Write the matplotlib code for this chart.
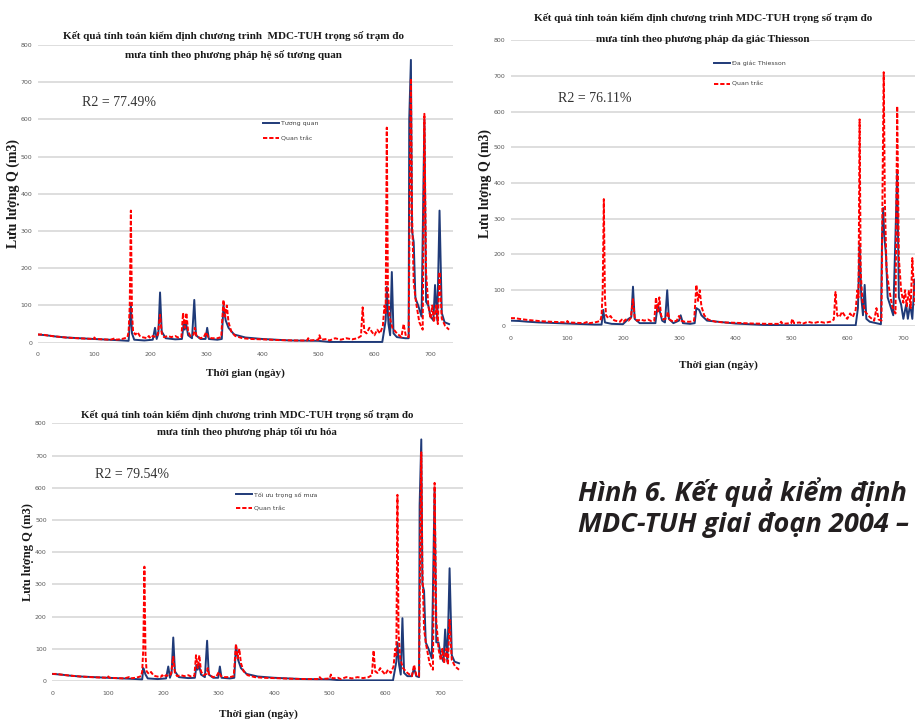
import matplotlib.pyplot as plt

W, H = 915, 720

# observed discharge (shared by all three panels)
obs_day = [0, 8, 15, 30, 50, 70, 100, 101, 103, 130, 138, 140, 150, 155, 160, 162, 164, 166, 168, 170,
           174, 178, 182, 186, 195, 198, 201, 205, 210, 214, 218, 221, 225, 232, 238, 245, 250, 256, 259, 262,
           265, 268, 272, 278, 280, 283, 290, 296, 300, 304, 310, 320, 327, 331, 334, 337, 340, 345, 352, 365,
           380, 400, 430, 460, 480, 482, 485, 500, 502, 505, 515, 520, 530, 540, 550, 560, 570, 576, 579, 582,
           586, 591, 595, 600, 605, 610, 615, 618, 620, 622, 624, 627, 632, 640, 648, 652, 656, 661, 663, 665,
           667, 670, 674, 680, 686, 689, 692, 696, 700, 703, 706, 710, 713, 716, 720, 726, 733]
obs_q = [22, 22, 20, 17, 14, 12, 10, 14, 10, 8, 12, 8, 10, 12, 15, 30, 100, 355, 80, 30,
         22, 28, 18, 15, 12, 18, 12, 18, 15, 22, 75, 25, 15, 18, 15, 18, 14, 15, 80, 40,
         80, 30, 18, 22, 40, 18, 12, 15, 28, 15, 12, 12, 15, 115, 70, 100, 55, 30, 18, 12,
         10, 9, 7, 6, 6, 12, 6, 8, 20, 8, 10, 6, 12, 8, 12, 9, 12, 18, 95, 30,
         25, 40, 30, 20, 35, 25, 45, 100, 80, 578, 150, 70, 40, 25, 15, 50, 18, 15, 410, 710,
         350, 160, 110, 55, 35, 615, 190, 100, 65, 100, 55, 100, 50, 190, 65, 45, 35]

# correlation-coefficient weights
sim1_day = [0, 15, 30, 50, 100, 140, 162, 164, 166, 168, 172, 190, 205, 209, 212, 215, 218, 221, 228, 245,
            257, 260, 262, 264, 268, 275, 279, 282, 290, 299, 302, 305, 320, 328, 331, 335, 340, 350, 370, 400,
            450, 500, 520, 560, 600, 614, 618, 620, 622, 625, 628, 631, 634, 640, 655, 661, 662, 665, 667, 670,
            673, 678, 684, 689, 692, 696, 700, 705, 708, 712, 716, 720, 725, 733]
sim1_q = [22, 20, 17, 14, 10, 7, 5, 50, 105, 25, 8, 6, 8, 40, 10, 25, 135, 30, 12, 9,
          10, 50, 35, 55, 20, 12, 115, 20, 10, 10, 40, 10, 8, 10, 100, 60, 40, 22, 14, 10,
          6, 5, 2, 2, 2, 2, 40, 60, 150, 50, 20, 190, 25, 15, 12, 12, 600, 760, 300, 270,
          120, 100, 70, 600, 110, 100, 70, 60, 155, 60, 355, 80, 55, 50]

# Thiessen polygon weights
sim2_day = [0, 15, 30, 50, 100, 150, 162, 165, 168, 180, 200, 210, 215, 218, 221, 230, 250, 258, 262, 266,
            270, 275, 279, 282, 290, 300, 303, 307, 320, 328, 331, 336, 340, 350, 400, 450, 500, 615, 619, 622,
            625, 628, 631, 634, 640, 660, 662, 664, 666, 669, 672, 676, 682, 689, 692, 696, 700, 705, 708, 712,
            716, 720]
sim2_q = [15, 14, 12, 10, 7, 4, 4, 45, 10, 6, 5, 20, 25, 110, 20, 8, 8, 8, 60, 40,
          15, 10, 100, 20, 8, 15, 30, 8, 6, 8, 50, 45, 30, 15, 7, 3, 2, 2, 50, 230,
          80, 30, 115, 20, 12, 5, 250, 330, 250, 200, 80, 60, 30, 430, 80, 60, 20, 60, 20, 60,
          20, 130]

# optimised weights
sim3_day = [0, 15, 30, 50, 100, 140, 162, 164, 166, 168, 172, 190, 205, 209, 212, 215, 218, 221, 228, 245,
            257, 260, 262, 264, 268, 275, 279, 282, 290, 299, 302, 305, 320, 328, 331, 335, 340, 350, 370, 400,
            450, 500, 520, 560, 600, 614, 618, 620, 622, 625, 628, 631, 634, 640, 648, 652, 656, 661, 662, 665,
            667, 670, 673, 678, 684, 689, 692, 696, 700, 705, 708, 712, 716, 720, 725, 733]
sim3_q = [22, 20, 17, 14, 10, 7, 5, 40, 30, 20, 8, 6, 8, 45, 10, 25, 135, 30, 12, 9,
          10, 50, 35, 55, 20, 12, 125, 20, 10, 10, 45, 10, 8, 10, 110, 65, 40, 22, 14, 10,
          6, 5, 2, 2, 2, 2, 40, 60, 120, 50, 20, 195, 25, 15, 15, 40, 15, 12, 545, 750,
          300, 280, 120, 100, 70, 600, 120, 120, 80, 60, 160, 60, 350, 80, 60, 55]

panels = [
    dict(rect=(37.7, 342.7, 453.0, 45.0), sim=(sim1_day, sim1_q), sim_label="Tương quan",
         title=("Kết quả tính toán kiểm định chương trình  MDC-TUH trọng số trạm đo",
                "mưa tính theo phương pháp hệ số tương quan"),
         title_xy=(233, 36, 55), r2="R2 = 77.49%", r2_xy=(82, 103), leg_xy=(263, 121), leg_sp=1.5,
         ylab_xy=(13, 193), xlab_xy=(245, 373), fs=8.0, yfs=10),
    dict(rect=(510.7, 326.0, 925.8, 40.0), sim=(sim2_day, sim2_q), sim_label="Đa giác Thiesson",
         title=("Kết quả tính toán kiểm định chương trình MDC-TUH trọng số trạm đo",
                "mưa tính theo phương pháp đa giác Thiesson"),
         title_xy=(703, 18, 39), r2="R2 = 76.11%", r2_xy=(558, 98), leg_xy=(714, 61), leg_sp=2.4,
         ylab_xy=(485, 183), xlab_xy=(718, 365), fs=8.0, yfs=10),
    dict(rect=(52.3, 681.0, 462.9, 423.3), sim=(sim3_day, sim3_q), sim_label="Tối ưu trọng số mưa",
         title=("Kết quả tính toán kiểm định chương trình MDC-TUH trọng số trạm đo",
                "mưa tính theo phương pháp tối ưu hóa"),
         title_xy=(247, 415, 432), r2="R2 = 79.54%", r2_xy=(95, 474), leg_xy=(236, 492), leg_sp=1.4,
         ylab_xy=(28, 552), xlab_xy=(258, 714), fs=7.8, yfs=9),
]

fig = plt.figure(figsize=(W / 100, H / 100), dpi=100)
serif = "Liberation Serif"


def fx(x):
    return x / W


def fy(y):
    return 1 - y / H


for p in panels:
    x0, y0, x1, y1 = p["rect"]
    ax = fig.add_axes([fx(x0), fy(y0), (x1 - x0) / W, (y0 - y1) / H])
    ax.set_frame_on(False)
    ax.set_xlim(0, 740)
    ax.set_ylim(0, 800)
    ax.set_xticks(range(0, 800, 100))
    ax.set_yticks(range(0, 900, 100))
    ax.grid(axis="y", color="#d4d4d4", lw=1.1)
    ax.set_axisbelow(True)
    ax.tick_params(length=0, labelsize=4.5, labelcolor="#595959")
    ax.tick_params(axis="x", pad=7)
    ax.tick_params(axis="y", pad=4)

    ax.plot(p["sim"][0], p["sim"][1], color="#1f3a78", lw=1.4, label=p["sim_label"])
    ax.plot(obs_day, obs_q, color="#ff0000", lw=1.4, dashes=(2.2, 1.0), label="Quan trắc")

    ax.legend(loc="upper left", bbox_to_anchor=(fx(p["leg_xy"][0]), fy(p["leg_xy"][1])),
              bbox_transform=fig.transFigure, frameon=False, fontsize=4.5, borderpad=0,
              borderaxespad=0, handlelength=2.6, handletextpad=0.3, labelspacing=p["leg_sp"],
              labelcolor="#404040")

    tx, ty1, ty2 = p["title_xy"]
    for line, ty in zip(p["title"], (ty1, ty2)):
        fig.text(fx(tx), fy(ty), line, ha="center", va="center", family=serif,
                 weight="bold", fontsize=p["fs"], color="#1a1a1a")
    fig.text(fx(p["r2_xy"][0]), fy(p["r2_xy"][1]), p["r2"], ha="left", va="center",
             family=serif, fontsize=10, color="#333333")
    fig.text(fx(p["ylab_xy"][0]), fy(p["ylab_xy"][1]), "Lưu lượng Q (m3)", rotation=90,
             ha="center", va="center", family=serif, weight="bold", fontsize=p["yfs"], color="#1a1a1a")
    fig.text(fx(p["xlab_xy"][0]), fy(p["xlab_xy"][1]), "Thời gian (ngày)", ha="center",
             va="center", family=serif, weight="bold", fontsize=8, color="#1a1a1a")

# figure caption (runs off the right edge in the source page)
fig.text(fx(578), fy(492), "Hình 6. Kết quả kiểm định chương trình", ha="left", va="center",
         family="Open Sans", weight="bold", style="italic", fontsize=19.5, color="#231f20")
fig.text(fx(578), fy(525), "MDC-TUH giai đoạn 2004 – 2005", ha="left", va="center",
         family="Open Sans", weight="bold", style="italic", fontsize=19.5, color="#231f20")

fig.savefig("out.png", dpi=100)
